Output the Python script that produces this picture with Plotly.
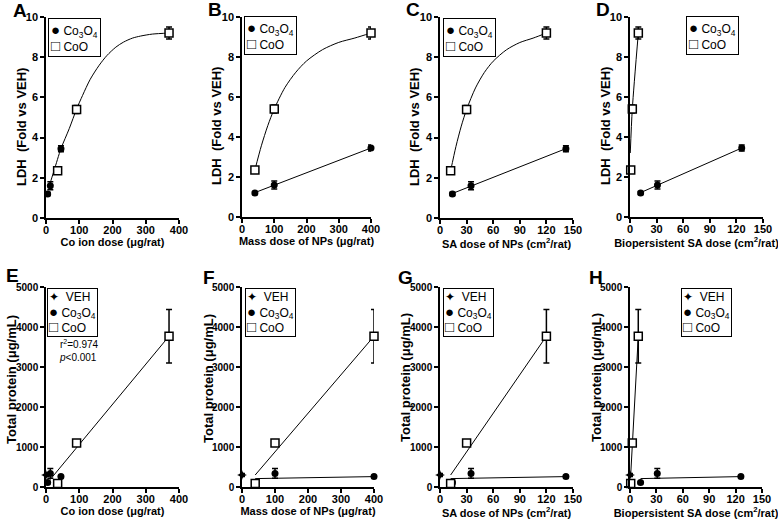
import plotly.graph_objects as go

W, H = 778, 522
FONT = "Liberation Sans, Arial, sans-serif"

# ---------------- data ----------------
# LDH, fold vs VEH
ldh_co3o4 = [1.2, 1.6, 3.45]
ldh_co3o4_err = [0.08, 0.2, 0.15]
ldh_coo = [2.35, 5.4, 9.2]
ldh_coo_err = [0.1, 0.2, 0.3]

# total protein, ug/mL
prot_veh = [300]
prot_veh_err = [40]
prot_co3o4 = [110, 340, 260]
prot_co3o4_err = [30, 120, 30]
prot_coo = [90, 1100, 3770]
prot_coo_err = [40, 60, 670]

# dose metrics
veh_dose = [0]
ion_co3o4 = [5, 13, 45]
ion_coo = [35, 92, 370]
mass_co3o4 = [40, 100, 400]
mass_coo = [40, 100, 400]
sa_co3o4 = [14, 35, 142]
sa_coo = [12, 30, 120]
bio_co3o4 = [12, 31, 126]
bio_coo = [0.8, 2.6, 9.4]

# fitted curves / lines as drawn in the figure
fitA_x = [7, 12, 25, 45, 70, 92, 110, 133, 160, 183, 210, 233, 260, 284, 320, 370]
fitA_y = [1.5, 1.72, 2.4, 3.45, 4.45, 5.42, 6.1, 6.9, 7.6, 8.08, 8.5, 8.75, 8.95, 9.05, 9.15, 9.2]
fitB_coo_x = [40, 60, 80, 100, 133, 167, 200, 250, 300, 350, 400]
fitB_coo_y = [2.35, 3.56, 4.57, 5.4, 6.47, 7.24, 7.8, 8.37, 8.73, 8.95, 9.2]
fitB_co3o4_x = [40, 400]
fitB_co3o4_y = [1.22, 3.45]
fitC_coo_x = [12, 18, 24, 30, 40, 50, 60, 75, 90, 105, 120]
fitC_coo_y = [2.35, 3.56, 4.57, 5.4, 6.47, 7.24, 7.8, 8.37, 8.73, 8.95, 9.2]
fitC_co3o4_x = [14, 142]
fitC_co3o4_y = [1.22, 3.45]
fitD_coo_x = [0.3, 2.6, 9.4]
fitD_coo_y = [3.2, 5.4, 9.2]
fitD_co3o4_x = [12, 126]
fitD_co3o4_y = [1.22, 3.45]

fitE_x = [12, 370]
fitE_y = [180, 3770]
fitF_coo_x = [40, 400]
fitF_coo_y = [300, 3770]
fitF_co3o4_x = [40, 400]
fitF_co3o4_y = [210, 260]
fitG_coo_x = [12, 120]
fitG_coo_y = [300, 3770]
fitG_co3o4_x = [12, 142]
fitG_co3o4_y = [210, 260]
fitH_coo_x = [0.8, 9.4]
fitH_coo_y = [300, 3770]
fitH_co3o4_x = [12, 126]
fitH_co3o4_y = [210, 260]

# axis ticks
ticks_ion = [0, 100, 200, 300, 400]
ticks_sa = [0, 30, 60, 90, 120, 150]
ticks_ldh = [0, 2, 4, 6, 8, 10]
ticks_prot = [0, 1000, 2000, 3000, 4000, 5000]

CO3O4 = "Co<sub>3</sub>O<sub>4</sub>"
G_DOT = "<span style='font-size:15px'>●</span> "
G_SQ = "<span style='font-size:15px'>□</span> "
G_STAR = "<span style='font-size:12px'>✦</span>  "
LEG_TOP = G_DOT + CO3O4 + "<br>" + G_SQ + "CoO"
LEG_BOT = G_STAR + "VEH<br>" + G_DOT + CO3O4 + "<br>" + G_SQ + "CoO"
YT_LDH = "LDH  (Fold vs VEH)"
YT_PROT = "Total protein (μg/mL)"

# ---------------- layout helpers ----------------
def xdom(l, r):
    return [l / W, r / W]

def ydom(t, b):
    return [1 - b / H, 1 - t / H]

panels = [
    # letter, x px, y px, xrange, xticks, yrange, yticks, xtitle, ytitle,
    # letter pos, legend pos, legend text, (ytitle offset, ytitle centre), ytick font size
    ("A", (46, 179), (17, 218), [0, 400], ticks_ion, [0, 10], ticks_ldh,
     "Co ion dose (μg/rat)", YT_LDH, (20, 10), (48, 18), LEG_TOP, (25, 127), 11),
    ("B", (242, 371), (17, 217), [0, 400], ticks_ion, [0, 10], ticks_ldh,
     "Mass dose of NPs (μg/rat)", YT_LDH, (215, 9), (244, 16), LEG_TOP, (26, 126), 11),
    ("C", (440, 573), (17, 218), [0, 150], ticks_sa, [0, 10], ticks_ldh,
     "SA dose of NPs (cm<sup>2</sup>/rat)", YT_LDH, (413, 9), (443, 18), LEG_TOP, (26, 127), 11),
    ("D", (630, 763), (17, 217), [0, 150], ticks_sa, [0, 10], ticks_ldh,
     "Biopersistent SA dose (cm<sup>2</sup>/rat)", YT_LDH, (603, 9), (686, 16), LEG_TOP, (25, 126), 11),
    ("E", (46, 179), (287, 487), [0, 400], ticks_ion, [0, 5000], ticks_prot,
     "Co ion dose (μg/rat)", YT_PROT, (13, 275), (47, 288), LEG_BOT, (35, 380), 10),
    ("F", (242, 374), (287, 487), [0, 400], ticks_ion, [0, 5000], ticks_prot,
     "Mass dose of NPs (μg/rat)", YT_PROT, (209, 277), (245, 288), LEG_BOT, (34, 378), 10),
    ("G", (440, 573), (287, 487), [0, 150], ticks_sa, [0, 5000], ticks_prot,
     "SA dose of NPs (cm<sup>2</sup>/rat)", YT_PROT, (405, 277), (443, 288), LEG_BOT, (35, 378), 10),
    ("H", (630, 762), (287, 487), [0, 150], ticks_sa, [0, 5000], ticks_prot,
     "Biopersistent SA dose (cm<sup>2</sup>/rat)", YT_PROT, (596, 277), (681, 288), LEG_BOT, (34, 378), 10),
]

fig = go.Figure()
layout = dict(
    width=W, height=H, margin=dict(l=0, r=0, t=0, b=0),
    paper_bgcolor="white", plot_bgcolor="white",
    font=dict(family=FONT, color="black", size=12),
    showlegend=False, annotations=[],
)

TICKF = dict(family=FONT, size=11, weight="bold")
TITLEF = dict(family=FONT, size=11, weight="bold")
YTITLEF = dict(family=FONT, size=13, weight="bold")

for i, (letter, xp, yp, xr, xt, yr, yt, xtitle, ytitle, lpos, legpos, legtext, ytp, ytfs) in enumerate(panels):
    n = i + 1
    sx = "" if n == 1 else str(n)
    layout["xaxis" + sx] = dict(
        domain=xdom(*xp), range=xr, tickvals=xt, anchor="y" + sx,
        showgrid=False, zeroline=False, showline=True, linecolor="black", linewidth=1.5,
        ticks="outside", ticklen=4, tickwidth=1.5, tickcolor="black",
        tickfont=TICKF, ticklabelstandoff=-3,
        title=dict(text=xtitle, font=TITLEF, standoff=2),
        automargin=False, fixedrange=True,
    )
    layout["yaxis" + sx] = dict(
        domain=ydom(*yp), range=yr, tickvals=yt, anchor="x" + sx,
        showgrid=False, zeroline=False, showline=True, linecolor="black", linewidth=1.5,
        ticks="outside", ticklen=4, tickwidth=1.5, tickcolor="black",
        tickfont=dict(family=FONT, size=ytfs, weight="bold"),
        automargin=False, fixedrange=True,
    )
    # y-axis title
    layout["annotations"].append(dict(
        text=ytitle, x=(xp[0] - ytp[0]) / W, y=1 - ytp[1] / H, xref="paper", yref="paper",
        xanchor="center", yanchor="middle", textangle=-90, showarrow=False, font=YTITLEF,
    ))
    layout["annotations"].append(dict(
        text=letter, x=lpos[0] / W, y=1 - lpos[1] / H, xref="paper", yref="paper",
        xanchor="center", yanchor="middle", showarrow=False,
        font=dict(family=FONT, size=19, weight="bold"),
    ))
    layout["annotations"].append(dict(
        text=legtext, x=legpos[0] / W, y=1 - legpos[1] / H, xref="paper", yref="paper",
        xanchor="left", yanchor="top", showarrow=False, align="left",
        bordercolor="black", borderwidth=1, borderpad=2 if n <= 4 else 1, bgcolor="white",
        font=dict(family=FONT, size=12),
    ))

layout["annotations"].append(dict(
    text="r<sup>2</sup>=0.974<br><i>p</i>&lt;0.001", x=57 / W, y=1 - 336 / H,
    xref="paper", yref="paper", xanchor="left", yanchor="top", showarrow=False,
    align="left", font=dict(family=FONT, size=10),
))

LINE = dict(color="black", width=1)
CIRCLE = dict(symbol="circle", size=7, color="black")
SQUARE = dict(symbol="square", size=8, color="white", line=dict(color="black", width=1.5))
STAR = dict(symbol="star-diamond", size=7, color="black")


def err(arr):
    return dict(type="data", array=arr, color="black", thickness=1.5, width=3)


def add_line(x, y, n, shape="linear"):
    sx = "" if n == 1 else str(n)
    fig.add_trace(go.Scatter(x=x, y=y, mode="lines",
                             line=dict(LINE, shape=shape, smoothing=0.8) if shape == "spline" else LINE,
                             xaxis="x" + sx, yaxis="y" + sx, hoverinfo="skip"))


def add_pts(x, y, e, marker, n, name):
    sx = "" if n == 1 else str(n)
    fig.add_trace(go.Scatter(x=x, y=y, mode="markers", marker=marker, error_y=err(e),
                             xaxis="x" + sx, yaxis="y" + sx, name=name, cliponaxis=False))


# ---- top row: LDH ----
add_line(fitA_x, fitA_y, 1, "spline")
add_pts(ion_co3o4, ldh_co3o4, ldh_co3o4_err, CIRCLE, 1, CO3O4)
add_pts(ion_coo, ldh_coo, ldh_coo_err, SQUARE, 1, "CoO")

add_line(fitB_coo_x, fitB_coo_y, 2, "spline")
add_line(fitB_co3o4_x, fitB_co3o4_y, 2)
add_pts(mass_co3o4, ldh_co3o4, ldh_co3o4_err, CIRCLE, 2, CO3O4)
add_pts(mass_coo, ldh_coo, ldh_coo_err, SQUARE, 2, "CoO")

add_line(fitC_coo_x, fitC_coo_y, 3, "spline")
add_line(fitC_co3o4_x, fitC_co3o4_y, 3)
add_pts(sa_co3o4, ldh_co3o4, ldh_co3o4_err, CIRCLE, 3, CO3O4)
add_pts(sa_coo, ldh_coo, ldh_coo_err, SQUARE, 3, "CoO")

add_line(fitD_coo_x, fitD_coo_y, 4, "spline")
add_line(fitD_co3o4_x, fitD_co3o4_y, 4)
add_pts(bio_co3o4, ldh_co3o4, ldh_co3o4_err, CIRCLE, 4, CO3O4)
add_pts(bio_coo, ldh_coo, ldh_coo_err, SQUARE, 4, "CoO")

# ---- bottom row: total protein ----
add_line(fitE_x, fitE_y, 5)
add_line(fitF_coo_x, fitF_coo_y, 6)
add_line(fitF_co3o4_x, fitF_co3o4_y, 6)
add_line(fitG_coo_x, fitG_coo_y, 7)
add_line(fitG_co3o4_x, fitG_co3o4_y, 7)
add_line(fitH_coo_x, fitH_coo_y, 8)
add_line(fitH_co3o4_x, fitH_co3o4_y, 8)

bottom = [(5, ion_co3o4, ion_coo), (6, mass_co3o4, mass_coo),
          (7, sa_co3o4, sa_coo), (8, bio_co3o4, bio_coo)]
for n, xc3, xco in bottom:
    add_pts(veh_dose, prot_veh, prot_veh_err, STAR, n, "VEH")
    add_pts(xc3, prot_co3o4, prot_co3o4_err, CIRCLE, n, CO3O4)
    add_pts(xco, prot_coo, prot_coo_err, SQUARE, n, "CoO")

fig.update_layout(**layout)
fig.write_html("out.html", config={"displayModeBar": False},
               post_script="document.body.style.margin='0';document.body.style.overflow='hidden';")
